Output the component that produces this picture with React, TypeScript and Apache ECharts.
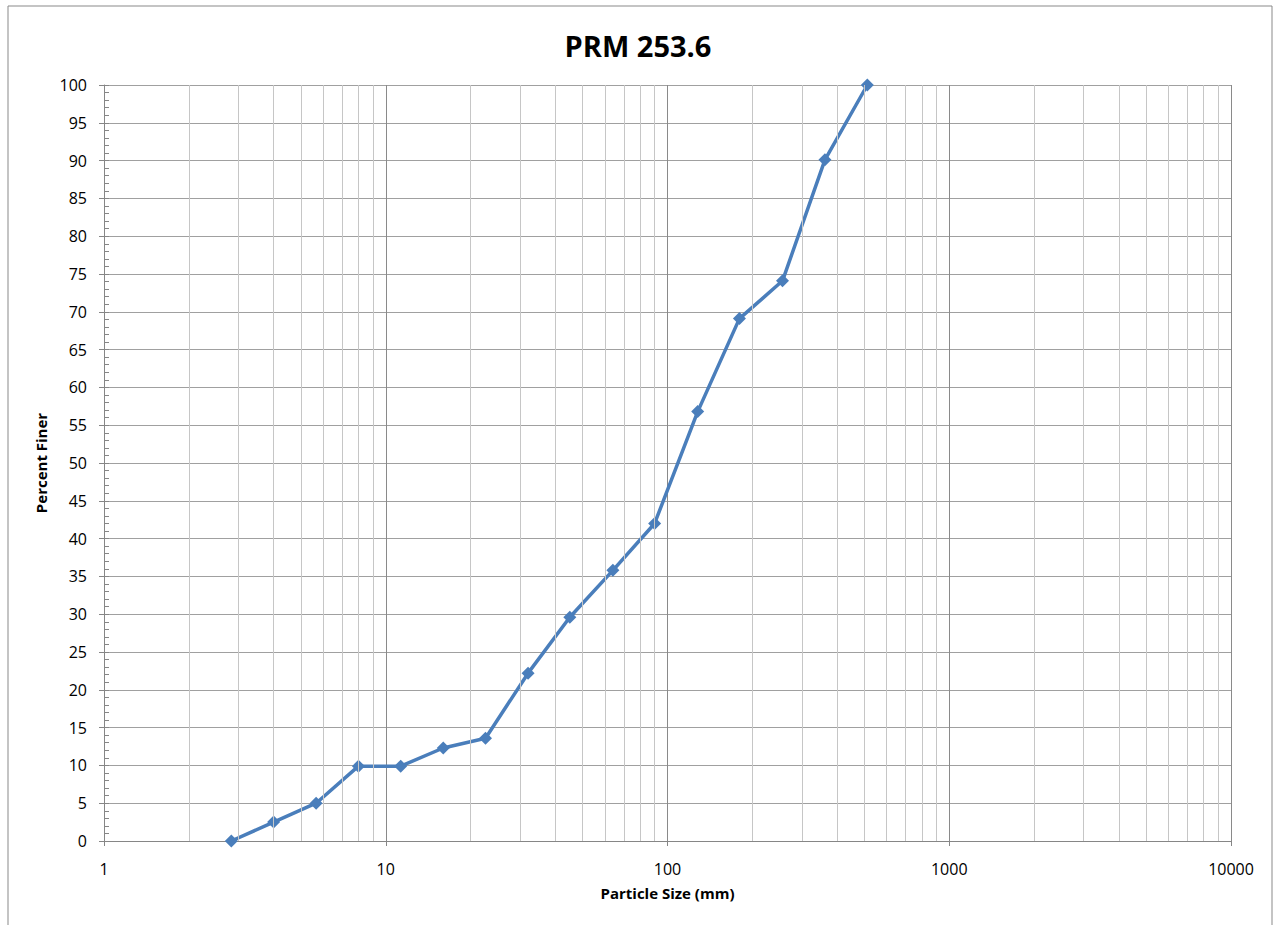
import React, { useEffect, useRef } from "react";
import * as echarts from "echarts";

const sizes = [2.83, 4, 5.66, 8, 11.3, 16, 22.6, 32, 45, 64, 90, 128, 180, 256, 362, 512];
const percentFiner = [0, 2.5, 5, 9.9, 9.9, 12.3, 13.6, 22.2, 29.6, 35.8, 42, 56.8, 69.1, 74.1, 90.1, 100];
const minorGrid = [
  2, 3, 4, 5, 6, 7, 8, 9,
  20, 30, 40, 50, 60, 70, 80, 90,
  200, 300, 400, 500, 600, 700, 800, 900,
  2000, 3000, 4000, 5000, 6000, 7000, 8000, 9000,
];
const titleText = "PRM 253.6";
const xName = "Particle Size (mm)";
const yName = "Percent Finer";

const FONT = "'Open Sans', 'Noto Sans', sans-serif";

export default function App() {
  const ref = useRef<HTMLDivElement>(null);
  useEffect(() => {
    if (!ref.current) return;
    const chart = echarts.init(ref.current, null, { renderer: "svg" });
    chart.setOption({
      animation: false,
      backgroundColor: "#ffffff",
      textStyle: { fontFamily: FONT },
      title: {
        text: titleText,
        left: "center",
        top: 26,
        textStyle: { fontFamily: FONT, fontSize: 29, fontWeight: "bold", color: "#000" },
      },
      graphic: [
        {
          type: "rect",
          shape: { x: 8, y: 6, width: 1264, height: 940 },
          style: { fill: "none", stroke: "#898989", lineWidth: 1 },
          silent: true,
        },
      ],
      grid: { left: 104, right: 45, top: 85, bottom: 84 },
      xAxis: {
        type: "log",
        logBase: 10,
        min: 1,
        max: 10000,
        splitNumber: 4,
        name: xName,
        nameLocation: "middle",
        nameGap: 44,
        nameTextStyle: { fontFamily: FONT, fontSize: 15, fontWeight: "bold", color: "#000" },
        axisLine: { show: true, lineStyle: { color: "#868686", width: 1 } },
        axisTick: { show: true, length: 5, lineStyle: { color: "#868686" } },
        axisLabel: {
          fontFamily: FONT,
          fontSize: 16,
          color: "#000",
          margin: 20,
          formatter: (v: number) => String(Math.round(v)),
        },
        splitLine: { show: true, lineStyle: { color: "#8a8a8a", width: 1 } },
      },
      yAxis: [
        {
          type: "value",
          min: 0,
          max: 100,
          interval: 5,
          name: yName,
          nameLocation: "middle",
          nameGap: 53,
          nameTextStyle: { fontFamily: FONT, fontSize: 15, fontWeight: "bold", color: "#000" },
          axisLine: { show: true, lineStyle: { color: "#868686", width: 1 } },
          axisTick: { show: true, length: 5, lineStyle: { color: "#868686" } },
          axisLabel: { fontFamily: FONT, fontSize: 16, color: "#000", margin: 17 },
          splitLine: { show: true, lineStyle: { color: "#a0a0a0", width: 1 } },
        },
        {
          type: "value",
          min: 0,
          max: 100,
          interval: 1,
          position: "left",
          axisLine: { show: false },
          axisTick: { show: true, inside: true, length: 5, lineStyle: { color: "#868686" } },
          axisLabel: { show: false },
          splitLine: { show: false },
        },
      ],
      series: [
        {
          type: "line",
          data: [],
          z: 1,
          silent: true,
          markLine: {
            silent: true,
            symbol: "none",
            label: { show: false },
            animation: false,
            lineStyle: { color: "#c6c6c6", width: 1, type: "solid" },
            data: minorGrid.map((v) => ({ xAxis: v })),
          },
        },
        {
          type: "line",
          z: 3,
          data: sizes.map((s, i) => [s, percentFiner[i]]),
          symbol: "diamond",
          symbolSize: 13,
          lineStyle: { color: "#4a7ebb", width: 3.5 },
          itemStyle: { color: "#4a7ebb" },
        },
      ],
    });
    return () => chart.dispose();
  }, []);
  return (
    <div
      ref={ref}
      style={{ position: "absolute", left: 0, top: 0, width: 1276, height: 925 }}
    />
  );
}
